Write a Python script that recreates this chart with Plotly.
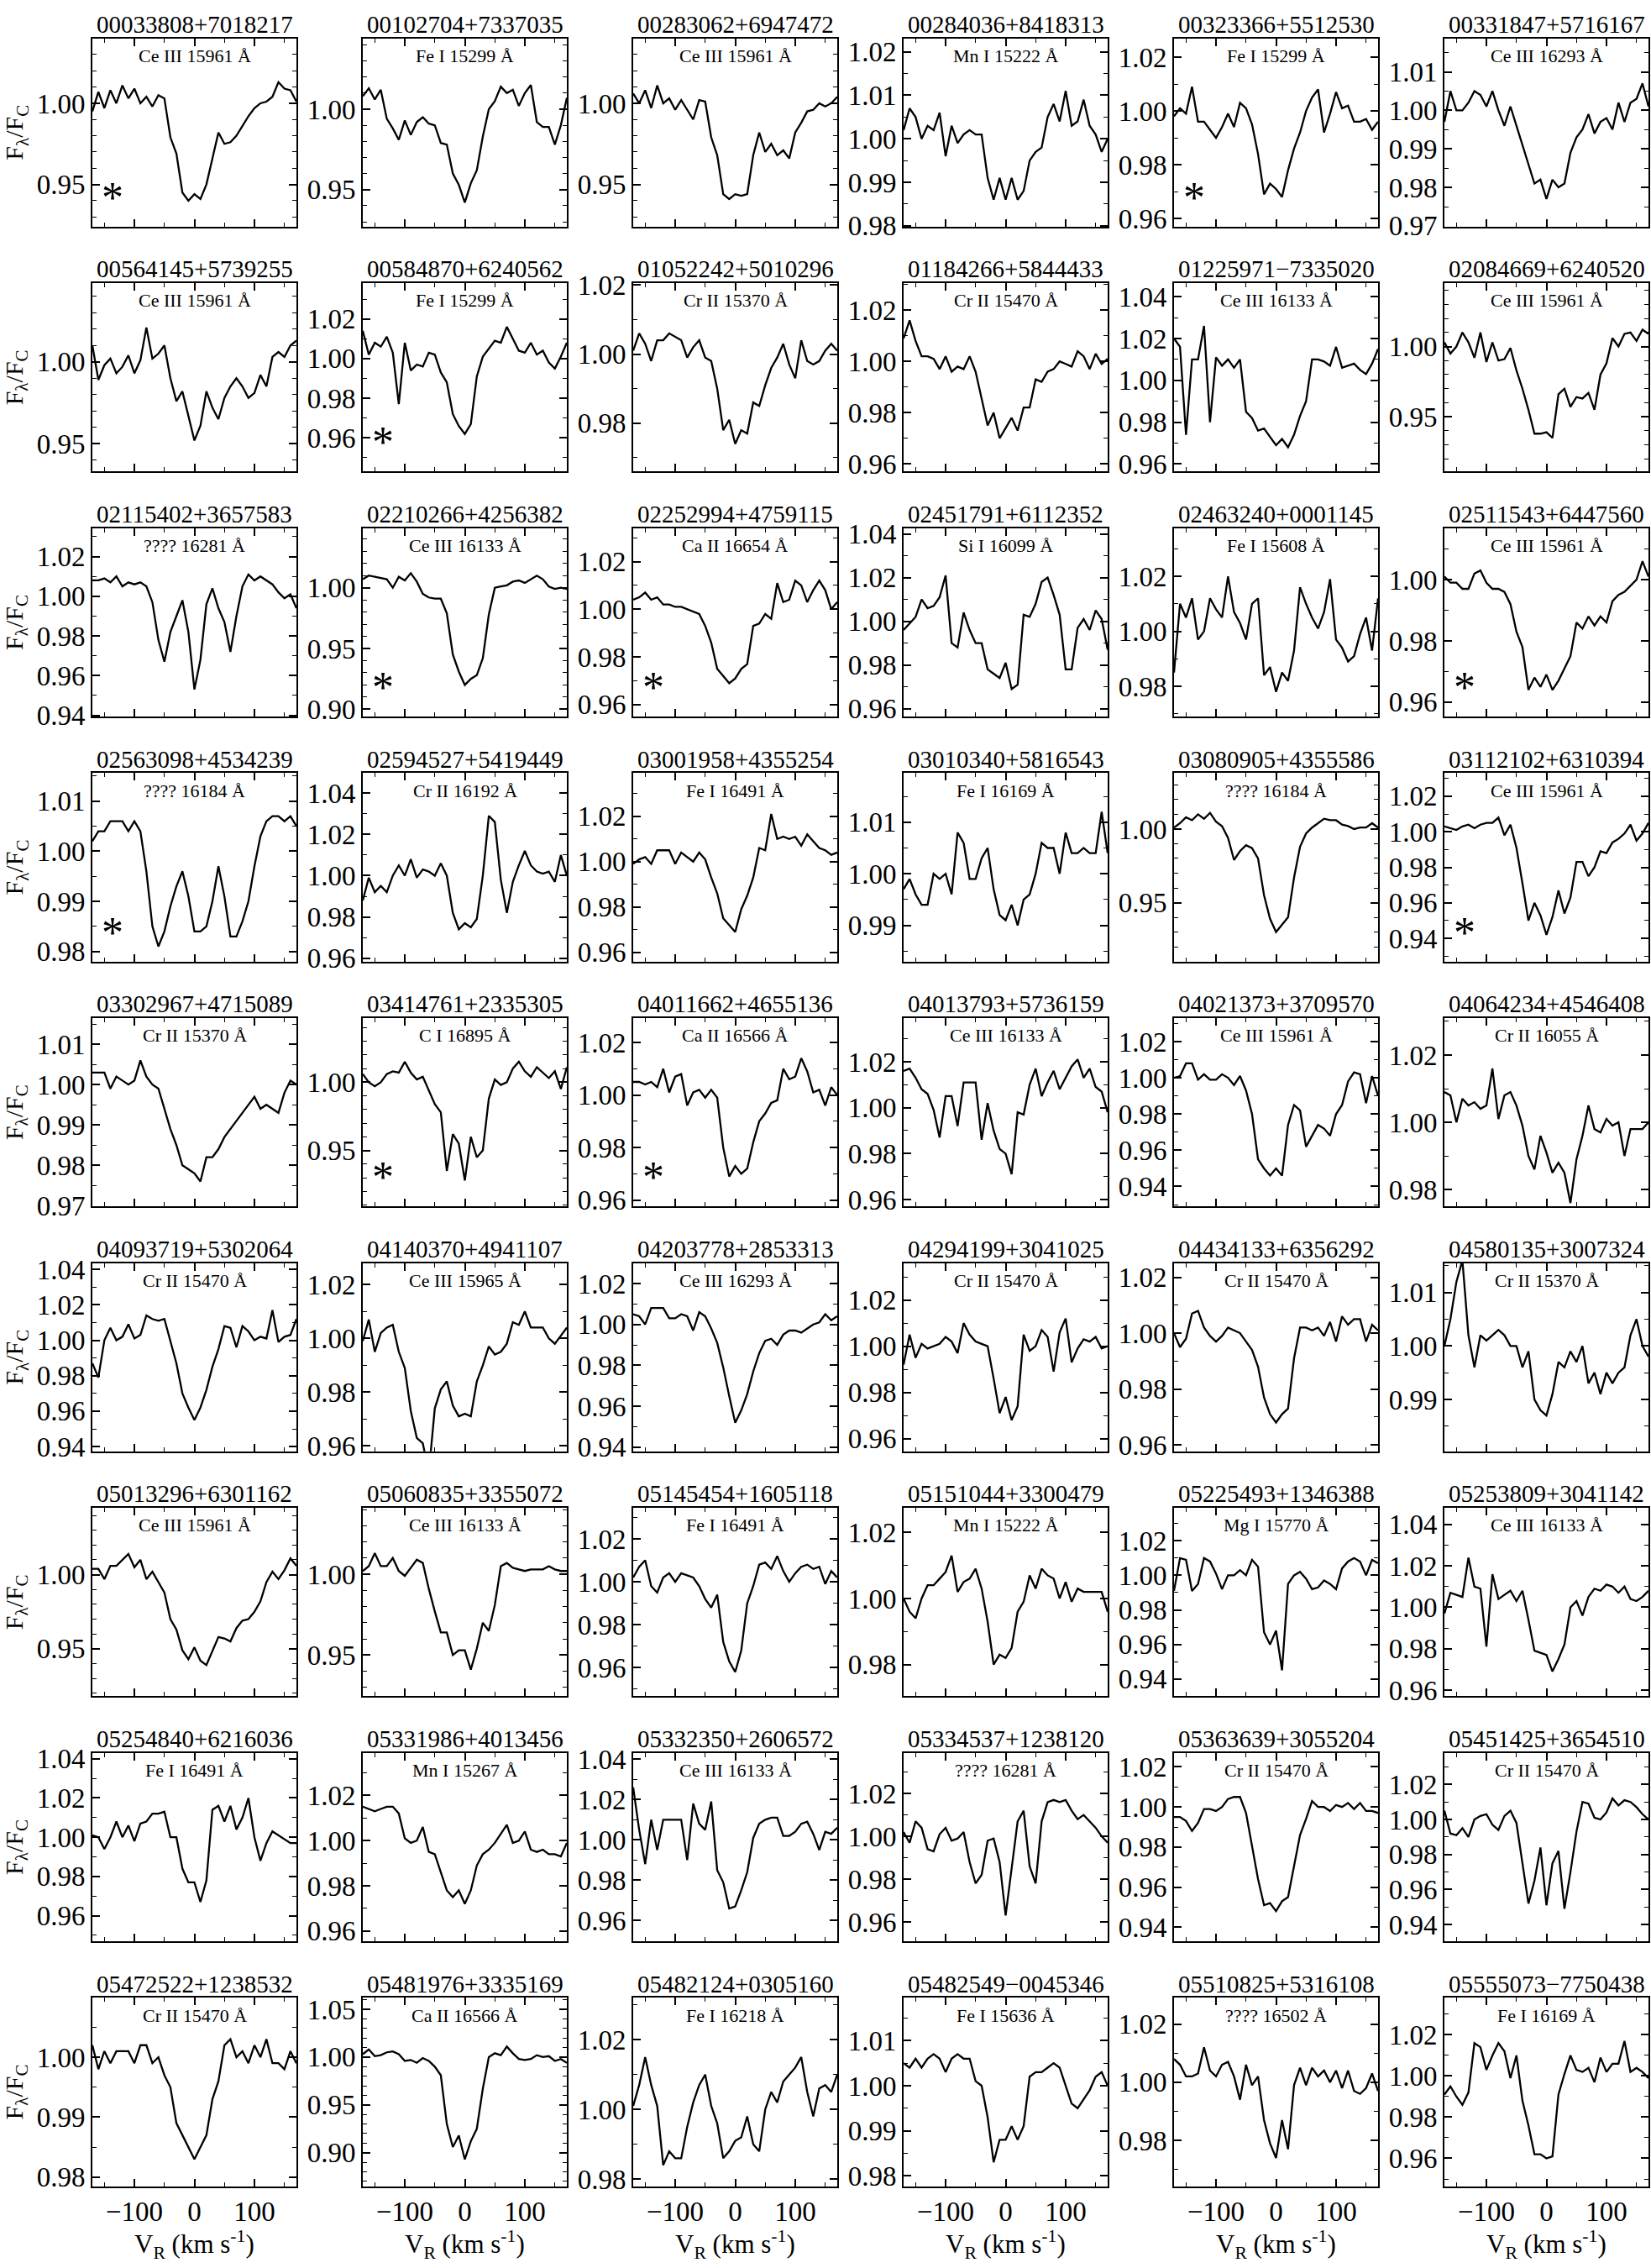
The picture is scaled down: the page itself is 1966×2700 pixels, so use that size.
import plotly.graph_objects as go

# ---------------- data ----------------
V_KMS = [-170, -160, -150, -140, -130, -120, -110, -100, -90, -80, -70, -60, -50, -40, -30, -20, -10,
         0, 10, 20, 30, 40, 50, 60, 70, 80, 90, 100, 110, 120, 130, 140, 150, 160, 170]

STAR_IDS = [
    "00033808+7018217", "00102704+7337035", "00283062+6947472", "00284036+8418313", "00323366+5512530", "00331847+5716167",
    "00564145+5739255", "00584870+6240562", "01052242+5010296", "01184266+5844433", "01225971\u22127335020", "02084669+6240520",
    "02115402+3657583", "02210266+4256382", "02252994+4759115", "02451791+6112352", "02463240+0001145", "02511543+6447560",
    "02563098+4534239", "02594527+5419449", "03001958+4355254", "03010340+5816543", "03080905+4355586", "03112102+6310394",
    "03302967+4715089", "03414761+2335305", "04011662+4655136", "04013793+5736159", "04021373+3709570", "04064234+4546408",
    "04093719+5302064", "04140370+4941107", "04203778+2853313", "04294199+3041025", "04434133+6356292", "04580135+3007324",
    "05013296+6301162", "05060835+3355072", "05145454+1605118", "05151044+3300479", "05225493+1346388", "05253809+3041142",
    "05254840+6216036", "05331986+4013456", "05332350+2606572", "05334537+1238120", "05363639+3055204", "05451425+3654510",
    "05472522+1238532", "05481976+3335169", "05482124+0305160", "05482549\u22120045346", "05510825+5316108", "05555073\u22127750438",
]

LINE_IDS = [
    "Ce III 15961 Å", "Fe I 15299 Å", "Ce III 15961 Å", "Mn I 15222 Å", "Fe I 15299 Å", "Ce III 16293 Å",
    "Ce III 15961 Å", "Fe I 15299 Å", "Cr II 15370 Å", "Cr II 15470 Å", "Ce III 16133 Å", "Ce III 15961 Å",
    "???? 16281 Å", "Ce III 16133 Å", "Ca II 16654 Å", "Si I 16099 Å", "Fe I 15608 Å", "Ce III 15961 Å",
    "???? 16184 Å", "Cr II 16192 Å", "Fe I 16491 Å", "Fe I 16169 Å", "???? 16184 Å", "Ce III 15961 Å",
    "Cr II 15370 Å", "C I 16895 Å", "Ca II 16566 Å", "Ce III 16133 Å", "Ce III 15961 Å", "Cr II 16055 Å",
    "Cr II 15470 Å", "Ce III 15965 Å", "Ce III 16293 Å", "Cr II 15470 Å", "Cr II 15470 Å", "Cr II 15370 Å",
    "Ce III 15961 Å", "Ce III 16133 Å", "Fe I 16491 Å", "Mn I 15222 Å", "Mg I 15770 Å", "Ce III 16133 Å",
    "Fe I 16491 Å", "Mn I 15267 Å", "Ce III 16133 Å", "???? 16281 Å", "Cr II 15470 Å", "Cr II 15470 Å",
    "Cr II 15470 Å", "Ca II 16566 Å", "Fe I 16218 Å", "Fe I 15636 Å", "???? 16502 Å", "Fe I 16169 Å",
]

FLAGGED = [0, 4, 7, 13, 14, 17, 18, 23, 25, 26]   # panels marked with an asterisk

Y_MIN = [0.924, 0.927, 0.924, 0.9798, 0.957, 0.9698,
         0.933, 0.943, 0.966, 0.957, 0.9564, 0.911,
         0.9394, 0.894, 0.955, 0.9564, 0.969, 0.9553,
         0.978, 0.9584, 0.956, 0.983, 0.910, 0.927,
         0.9698, 0.909, 0.9576, 0.957, 0.929, 0.975,
         0.9373, 0.958, 0.938, 0.9545, 0.9577, 0.9803,
         0.918, 0.9245, 0.9467, 0.9704, 0.930, 0.957,
         0.947, 0.9555, 0.9498, 0.951, 0.933, 0.9305,
         0.9785, 0.865, 0.978, 0.9777, 0.9643, 0.9465]
Y_MAX = [1.040, 1.044, 1.040, 1.0231, 1.027, 1.0187,
         1.048, 1.038, 1.0205, 1.0305, 1.0464, 1.045,
         1.0343, 1.049, 1.034, 1.0426, 1.0375, 1.0168,
         1.0156, 1.0497, 1.039, 1.0195, 1.038, 1.033,
         1.0165, 1.047, 1.0293, 1.039, 1.033, 1.031,
         1.0436, 1.028, 1.030, 1.036, 1.0251, 1.0155,
         1.045, 1.041, 1.0344, 1.0274, 1.039, 1.048,
         1.043, 1.0388, 1.0431, 1.039, 1.027, 1.038,
         1.0099, 1.062, 1.032, 1.0195, 1.029, 1.038]
Y_STEP = [0.05, 0.05, 0.05, 0.01, 0.02, 0.01,
          0.05, 0.02, 0.02, 0.02, 0.02, 0.05,
          0.02, 0.05, 0.02, 0.02, 0.02, 0.02,
          0.01, 0.02, 0.02, 0.01, 0.05, 0.02,
          0.01, 0.05, 0.02, 0.02, 0.02, 0.02,
          0.02, 0.02, 0.02, 0.02, 0.02, 0.01,
          0.05, 0.05, 0.02, 0.02, 0.02, 0.02,
          0.02, 0.02, 0.02, 0.02, 0.02, 0.02,
          0.01, 0.05, 0.02, 0.01, 0.02, 0.02]

F01 = [0.995,1.007,0.997,1.008,1.000,1.011,1.003,1.009,1.000,1.004,0.998,1.005,1.003,0.979,0.969,0.945,0.940,0.944,0.941,0.950,0.966,0.982,0.975,0.976,0.980,0.986,0.992,0.997,1.000,1.001,1.004,1.013,1.009,1.008,1.001]
F02 = [1.008,1.013,1.006,1.012,0.994,0.988,0.981,0.993,0.984,0.992,0.995,0.991,0.990,0.979,0.978,0.960,0.953,0.942,0.954,0.962,0.983,1.000,1.005,1.014,1.010,1.012,1.002,1.010,1.015,0.992,0.989,0.989,0.978,0.990,1.007]
F03 = [1.006,1.000,1.008,0.997,1.011,1.000,1.003,0.996,1.002,0.996,0.990,1.002,1.001,0.979,0.968,0.944,0.941,0.944,0.943,0.944,0.968,0.982,0.970,0.975,0.968,0.971,0.966,0.982,0.988,0.995,0.996,1.000,0.998,1.000,1.004]
F04 = [1.002,1.007,1.005,1.000,1.003,1.002,1.006,0.996,1.003,0.999,1.001,1.002,1.001,1.001,0.991,0.986,0.991,0.986,0.991,0.986,0.988,0.995,0.997,0.998,1.005,1.008,1.004,1.011,1.003,1.004,1.009,1.003,1.001,0.997,1.000]
F05 = [0.998,1.001,0.999,1.009,0.996,0.996,0.993,0.990,0.994,0.999,0.994,1.003,1.001,0.995,0.984,0.969,0.973,0.971,0.968,0.978,0.986,0.992,1.000,1.005,1.008,0.992,0.999,1.007,1.001,1.002,0.996,0.996,0.997,0.993,0.996]
F06 = [0.997,1.005,1.000,1.000,1.002,1.005,1.004,1.001,1.005,1.000,0.996,1.001,0.996,0.991,0.986,0.981,0.982,0.977,0.982,0.980,0.981,0.989,0.993,0.995,0.999,0.994,0.997,0.998,0.995,1.002,0.997,1.002,1.003,1.007,1.001]
F07 = [1.010,0.989,0.998,1.002,0.993,0.997,1.004,0.993,1.001,1.021,1.002,1.005,1.010,0.990,0.976,0.982,0.967,0.952,0.961,0.982,0.972,0.965,0.978,0.985,0.990,0.985,0.978,0.981,0.992,0.985,1.003,1.006,1.003,1.010,1.013]
F08 = [1.014,1.002,1.008,1.006,1.011,1.003,0.977,1.008,0.994,0.997,0.996,1.003,1.002,0.993,0.988,0.972,0.966,0.962,0.967,0.991,1.001,1.005,1.009,1.008,1.016,1.010,1.004,1.003,1.008,1.002,1.004,0.998,0.995,1.001,1.008]
F09 = [1.001,1.006,1.003,0.998,1.004,1.004,1.006,1.005,1.004,0.999,1.002,1.004,0.999,0.998,0.990,0.978,0.981,0.974,0.978,0.977,0.986,0.985,0.991,0.996,0.999,1.003,0.997,0.993,1.004,0.998,0.997,0.998,1.001,1.003,1.001]
F10 = [1.009,1.016,1.008,1.002,1.002,1.001,0.997,1.002,0.996,0.998,0.997,1.002,0.996,0.986,0.975,0.980,0.970,0.974,0.978,0.973,0.982,0.982,0.993,0.992,0.996,0.997,1.000,0.999,0.998,1.004,1.002,0.997,1.003,0.999,1.001]
F11 = [1.020,1.016,0.974,1.010,1.010,1.026,0.980,1.011,1.007,1.010,1.006,1.010,0.985,0.982,0.976,0.977,0.973,0.969,0.972,0.968,0.974,0.983,0.990,1.010,1.010,1.009,1.007,1.016,1.006,1.007,1.008,1.005,1.003,1.008,1.015]
F12 = [1.003,0.995,1.000,1.010,1.003,0.992,1.010,0.989,1.003,0.990,0.991,0.999,0.983,0.970,0.955,0.938,0.938,0.939,0.935,0.966,0.970,0.957,0.964,0.963,0.967,0.955,0.980,0.988,1.006,1.000,1.009,1.010,1.004,1.012,1.009]
F13 = [1.008,1.008,1.009,1.007,1.010,1.005,1.007,1.006,1.007,1.005,0.997,0.978,0.967,0.982,0.990,0.998,0.982,0.953,0.968,0.996,1.004,0.994,0.987,0.972,0.990,1.005,1.011,1.008,1.010,1.008,1.006,1.002,0.999,1.001,0.994]
F14 = [1.007,1.010,1.009,1.008,1.007,1.000,1.009,1.006,1.012,1.005,0.995,0.992,0.991,0.991,0.979,0.945,0.931,0.920,0.925,0.928,0.942,0.978,1.000,1.001,1.002,1.005,1.006,1.004,1.007,1.010,1.007,1.001,0.999,1.000,0.999]
F15 = [1.004,1.005,1.007,1.004,1.005,1.002,1.002,1.001,1.001,1.000,0.999,0.998,0.993,0.986,0.975,0.972,0.969,0.971,0.975,0.977,0.993,0.994,0.998,0.996,1.011,1.003,1.004,1.012,1.010,1.003,1.008,1.012,1.008,1.000,1.003]
F16 = [0.996,0.999,1.002,1.010,1.006,1.007,1.011,1.021,0.990,0.988,1.004,0.996,0.990,0.990,0.978,0.976,0.974,0.981,0.969,0.971,1.003,1.002,1.008,1.018,1.020,1.012,1.003,0.978,0.978,0.997,1.001,0.996,1.005,1.001,0.987]
F17 = [0.985,1.010,1.005,1.012,0.997,1.000,1.012,1.008,1.005,1.020,1.007,1.003,0.997,1.010,1.012,0.984,0.987,0.978,0.985,0.982,0.993,1.016,1.010,1.005,1.001,1.007,1.019,0.997,0.994,0.989,0.991,0.999,1.005,0.993,1.012]
F18 = [1.001,0.999,0.999,0.997,0.997,1.002,1.003,0.999,0.997,0.997,0.996,0.992,0.983,0.978,0.964,0.968,0.965,0.969,0.964,0.967,0.971,0.975,0.986,0.984,0.988,0.985,0.988,0.986,0.993,0.995,0.996,0.998,1.000,1.006,1.001]
F19 = [1.002,1.004,1.004,1.006,1.006,1.006,1.004,1.006,1.004,0.996,0.985,0.981,0.984,0.989,0.993,0.996,0.991,0.984,0.984,0.985,0.990,0.997,0.991,0.983,0.983,0.986,0.990,0.997,1.003,1.006,1.007,1.007,1.006,1.007,1.005]
F20 = [0.988,0.999,0.992,0.995,0.992,1.000,1.005,1.000,1.008,0.999,1.003,1.002,1.000,1.006,1.000,0.982,0.974,0.977,0.975,0.979,1.000,1.029,1.026,0.998,0.982,0.997,1.005,1.012,1.005,1.002,1.001,1.002,0.997,1.010,1.000]
F21 = [0.999,1.001,1.002,0.999,1.005,1.005,1.005,0.999,1.004,1.002,1.000,1.004,1.001,0.993,0.986,0.975,0.972,0.969,0.979,0.985,0.993,1.006,1.005,1.021,1.010,1.011,1.010,1.011,1.007,1.012,1.009,1.006,1.005,1.003,1.004]
F22 = [0.997,0.999,0.996,0.994,0.994,1.000,0.999,1.000,0.996,1.008,1.006,0.999,0.999,1.003,1.005,0.997,0.992,0.991,0.994,0.990,0.995,0.996,1.000,1.006,1.005,1.005,1.000,1.008,1.004,1.004,1.005,1.004,1.004,1.012,1.004]
F23 = [1.001,1.004,1.008,1.006,1.010,1.007,1.011,1.005,1.002,0.994,0.979,0.985,0.989,0.987,0.980,0.955,0.939,0.930,0.935,0.940,0.967,0.988,0.997,1.001,1.004,1.007,1.006,1.006,1.003,1.002,1.000,1.001,1.001,1.004,1.001]
F24 = [1.003,1.002,1.001,1.003,1.004,1.002,1.004,1.005,1.005,1.008,0.998,1.004,0.991,0.971,0.950,0.960,0.953,0.942,0.952,0.967,0.954,0.963,0.983,0.983,0.975,0.980,0.989,0.988,0.994,0.996,0.999,1.004,0.995,0.999,1.005]
F25 = [1.003,1.003,1.003,0.999,1.002,1.001,1.000,1.001,1.006,1.002,1.000,0.999,0.994,0.989,0.985,0.980,0.979,0.978,0.976,0.982,0.982,0.984,0.987,0.989,0.991,0.993,0.995,0.997,0.994,0.995,0.994,0.993,0.998,1.001,1.000]
F26 = [1.006,1.000,0.997,1.000,1.006,1.008,1.007,1.015,1.007,1.002,1.004,0.994,0.984,0.978,0.935,0.962,0.955,0.928,0.960,0.945,0.950,0.988,1.002,0.998,1.000,1.010,1.015,1.008,1.004,1.011,1.007,1.003,1.008,0.995,1.011]
F27 = [1.005,1.005,1.004,1.005,1.003,1.010,1.001,1.007,1.008,0.996,1.001,1.002,0.999,1.002,0.999,0.980,0.969,0.973,0.970,0.972,0.982,0.990,0.993,0.997,0.998,1.010,1.006,1.007,1.014,1.009,1.001,1.002,0.996,1.003,1.000]
F28 = [1.016,1.017,1.013,1.008,1.006,0.999,0.987,1.005,1.005,0.992,1.011,1.011,1.011,0.986,1.002,0.990,0.982,0.980,0.971,0.998,0.997,1.010,1.017,1.005,1.011,1.016,1.008,1.013,1.018,1.021,1.013,1.017,1.009,1.007,0.998]
F29 = [1.000,1.001,1.008,1.008,0.999,1.002,0.999,0.999,1.002,1.000,0.996,1.001,0.993,0.980,0.955,0.950,0.946,0.950,0.946,0.974,0.985,0.982,0.962,0.968,0.974,0.972,0.968,0.980,0.985,0.998,1.003,1.002,0.986,1.001,0.990]
F30 = [1.009,1.008,1.000,1.007,1.005,1.006,1.004,1.005,1.016,1.001,1.008,1.009,1.005,0.999,0.990,0.986,0.996,0.991,0.985,0.988,0.985,0.976,0.989,0.996,1.005,0.998,0.997,1.001,0.999,1.000,0.990,0.998,0.998,0.998,1.000]
F31 = [0.987,0.979,1.000,1.007,1.000,1.002,1.009,1.001,1.003,1.014,1.012,1.011,1.012,1.000,0.987,0.970,0.962,0.955,0.962,0.972,0.985,0.995,1.008,1.007,0.996,1.008,1.005,1.000,1.002,1.001,1.017,0.999,1.002,1.003,1.012]
F32 = [0.999,1.007,0.995,1.002,1.004,1.005,0.995,0.989,0.973,0.963,0.961,0.950,0.974,0.981,0.984,0.975,0.971,0.972,0.971,0.984,0.990,0.997,0.994,0.995,0.998,1.006,1.005,1.010,1.004,1.004,1.004,1.000,0.998,1.001,1.004]
F33 = [1.005,1.004,1.000,1.008,1.008,1.008,1.003,1.003,1.005,1.004,0.997,1.006,1.004,0.998,0.991,0.979,0.965,0.952,0.958,0.966,0.977,0.986,0.992,0.993,0.990,0.995,0.997,0.997,0.996,0.998,1.000,1.001,1.005,1.002,1.004]
F34 = [0.992,1.005,0.995,1.001,0.999,1.000,1.001,1.004,1.002,0.997,1.010,1.005,1.002,1.001,1.000,0.986,0.971,0.978,0.968,0.974,1.005,0.998,1.000,1.007,1.004,0.989,1.006,1.012,0.993,0.999,1.003,1.002,1.004,0.999,1.000]
F35 = [1.000,0.995,0.998,1.007,1.008,1.002,0.999,0.997,0.999,1.002,1.001,1.000,0.997,0.994,0.988,0.977,0.971,0.968,0.971,0.973,0.991,1.002,1.002,1.001,1.002,0.999,1.004,0.997,1.006,1.003,1.005,1.005,0.997,1.003,1.001]
F36 = [1.000,1.005,1.012,1.016,1.002,0.996,1.002,1.001,1.002,1.003,1.002,1.000,1.000,0.996,0.999,0.990,0.988,0.987,0.991,0.997,0.996,0.999,0.997,1.000,0.993,0.995,0.991,0.995,0.993,0.995,0.996,1.002,1.005,1.000,0.998]
F37 = [1.004,1.004,0.997,1.006,1.006,1.010,1.014,1.005,1.010,0.997,1.002,0.995,0.988,0.970,0.963,0.949,0.943,0.951,0.942,0.939,0.948,0.958,0.957,0.955,0.964,0.969,0.970,0.975,0.982,0.995,1.002,0.997,1.003,1.011,1.006]
F38 = [1.002,1.005,1.013,1.005,1.005,1.010,1.002,0.999,1.004,1.009,1.007,0.991,0.977,0.964,0.964,0.950,0.953,0.953,0.941,0.954,0.970,0.965,0.981,1.005,1.007,1.004,1.003,1.002,1.003,1.003,1.003,1.005,1.003,1.002,1.002]
F39 = [1.002,1.007,1.010,0.998,0.995,1.002,1.004,1.000,1.004,1.003,1.002,0.998,0.992,0.988,0.994,0.972,0.963,0.958,0.968,0.990,0.998,1.008,1.009,1.006,1.012,1.005,1.000,1.004,1.007,1.008,1.006,1.007,0.999,1.005,1.002]
F40 = [1.000,0.996,0.994,1.000,1.004,1.004,1.006,1.008,1.013,1.002,1.005,1.006,1.009,1.003,0.993,0.980,0.983,0.982,0.985,0.996,0.999,1.007,1.003,1.009,1.007,1.006,1.000,1.005,0.999,1.003,1.002,1.002,1.002,1.002,0.996]
F41 = [0.991,1.010,1.009,0.991,0.995,1.010,1.008,1.001,0.992,1.000,1.000,1.003,1.000,1.009,1.005,0.967,0.960,0.968,0.945,0.995,1.000,1.002,0.998,0.992,0.993,0.997,0.995,0.992,1.004,1.008,1.010,1.008,1.000,1.009,1.007]
F42 = [0.997,1.007,1.006,1.005,1.024,1.010,1.009,0.981,1.016,1.004,1.006,1.008,1.003,1.008,0.994,0.979,0.978,0.977,0.969,0.975,0.982,1.000,1.003,0.996,1.005,1.009,1.008,1.011,1.010,1.007,1.010,1.004,1.003,1.005,1.008]
F43 = [1.001,1.000,0.994,1.000,1.008,1.000,1.006,0.998,1.007,1.008,1.012,1.012,1.013,1.000,1.000,0.984,0.977,0.977,0.967,0.978,1.014,1.016,1.008,1.016,1.004,1.010,1.020,1.000,0.988,0.997,1.003,1.001,0.999,0.997,0.997]
F44 = [1.015,1.014,1.013,1.014,1.015,1.015,1.012,1.001,0.999,1.000,1.006,0.995,0.994,0.986,0.978,0.975,0.978,0.972,0.978,0.989,0.994,0.996,0.999,1.003,1.007,0.999,1.000,1.004,0.996,0.995,0.996,0.994,0.994,0.993,0.999]
F45 = [1.026,1.005,0.988,1.010,0.995,1.010,1.010,1.010,1.010,0.990,1.018,1.008,1.005,1.019,0.985,0.979,0.966,0.967,0.975,0.984,1.001,1.008,1.010,1.011,1.011,1.002,1.002,1.004,1.008,1.009,1.003,0.995,1.004,1.003,1.006]
F46 = [1.002,0.997,1.007,1.004,0.994,0.993,1.001,1.004,0.998,0.999,1.002,0.988,0.978,0.982,0.998,0.999,0.988,0.963,0.985,1.007,1.012,0.986,0.978,1.007,1.016,1.017,1.016,1.017,1.012,1.008,1.010,1.007,1.004,1.000,0.997]
F47 = [0.995,0.995,0.993,0.988,0.992,0.999,0.999,0.998,1.000,1.004,1.005,1.005,0.997,0.981,0.964,0.951,0.952,0.948,0.953,0.955,0.970,0.986,0.994,1.003,1.000,1.000,0.998,1.001,1.000,1.002,0.999,1.002,0.998,0.998,0.997]
F48 = [1.005,0.992,0.991,0.995,0.990,1.000,1.002,1.003,0.997,0.994,1.002,1.005,0.998,0.976,0.952,0.965,0.984,0.951,0.975,0.982,0.949,0.970,0.993,1.010,1.009,1.001,1.000,1.004,1.012,1.008,1.011,1.010,1.007,1.003,1.000]
F49 = [1.002,0.998,1.001,0.999,1.001,1.001,1.001,0.999,1.002,1.002,0.999,1.000,0.997,0.995,0.989,0.987,0.985,0.983,0.985,0.987,0.993,0.996,1.002,1.003,1.000,1.001,0.999,1.002,1.000,1.003,0.999,0.999,0.998,1.001,0.999]
F50 = [1.003,1.008,1.001,1.002,1.005,1.006,1.003,0.996,0.997,0.994,0.999,0.996,0.990,0.981,0.930,0.906,0.918,0.893,0.912,0.925,0.967,1.000,1.004,1.002,1.011,1.004,0.998,0.997,0.998,1.002,1.000,1.001,0.996,0.998,0.994]
F51 = [1.001,1.007,1.015,1.007,1.001,0.984,0.988,0.986,0.986,0.995,1.002,1.007,1.010,1.001,0.996,0.986,0.988,0.991,0.992,0.998,0.990,0.988,1.000,1.005,1.002,1.008,1.010,1.012,1.015,1.005,0.998,1.006,1.007,1.005,1.010]
F52 = [1.005,1.004,1.006,1.004,1.006,1.007,1.006,1.003,1.006,1.007,1.006,1.006,1.001,1.000,0.993,0.983,0.988,0.988,0.991,0.988,0.991,1.002,1.003,1.003,1.004,1.005,1.004,1.000,0.996,0.995,0.997,0.999,1.002,1.003,1.000]
F53 = [1.008,1.006,1.002,1.002,1.003,1.012,1.004,1.002,1.006,1.007,1.002,0.994,1.006,0.999,1.002,0.987,0.979,0.974,0.987,0.977,0.999,1.005,0.999,1.005,1.002,1.004,1.000,1.004,0.998,1.004,0.997,0.996,0.998,1.003,0.997]
F54 = [0.991,0.995,0.990,0.986,0.992,1.016,1.014,1.003,1.010,1.016,1.012,0.999,1.010,0.988,0.976,0.962,0.962,0.960,0.961,0.991,1.001,1.010,1.003,1.002,1.004,0.997,1.009,1.002,1.006,1.006,1.017,1.002,1.004,1.002,0.999]

FLUX = [F01, F02, F03, F04, F05, F06, F07, F08, F09, F10, F11, F12, F13, F14, F15, F16, F17, F18,
        F19, F20, F21, F22, F23, F24, F25, F26, F27, F28, F29, F30, F31, F32, F33, F34, F35, F36,
        F37, F38, F39, F40, F41, F42, F43, F44, F45, F46, F47, F48, F49, F50, F51, F52, F53, F54]

for k, f in enumerate(FLUX):
    if len(f) != len(V_KMS):
        raise ValueError("panel %d has %d values" % (k + 1, len(f)))

# ---------------- layout (pixels) ----------------
W, H = 1966, 2700
COL_X0, COL_STEP, PW = 110, 322, 243
ROW_Y0, ROW_STEP, PH = 31, 295.2, 227
FONT = "Liberation Serif"
NCOL = 6


def px(x):
    return x / W


def py(y):
    return 1 - y / H


fig = go.Figure()
layout = dict(width=W, height=H, autosize=False, margin=dict(l=0, r=0, t=0, b=0),
              paper_bgcolor="white", plot_bgcolor="white", showlegend=False,
              font=dict(family=FONT, color="black"))
ann = []

n_rows = (len(FLUX) + NCOL - 1) // NCOL
for i, flux in enumerate(FLUX):
    r, c = divmod(i, NCOL)
    left = COL_X0 + c * COL_STEP
    top = ROW_Y0 + r * ROW_STEP
    sfx = "" if i == 0 else str(i + 1)
    fig.add_trace(go.Scatter(x=V_KMS, y=flux, mode="lines",
                             line=dict(color="black", width=2.3),
                             xaxis="x" + sfx, yaxis="y" + sfx, hoverinfo="skip"))
    last_row = (r == n_rows - 1)
    layout["xaxis" + sfx] = dict(
        domain=[px(left), px(left + PW)], anchor="y" + sfx, range=[-170, 170],
        tick0=0, dtick=100, ticks="inside", ticklen=9, tickwidth=1.5, tickcolor="black",
        showline=True, linewidth=2, linecolor="black", mirror="allticks",
        showgrid=False, zeroline=False, showticklabels=last_row, ticklabelstandoff=0,
        tickfont=dict(size=33, family=FONT, color="black"),
        minor=dict(tick0=0, dtick=50, ticks="inside", ticklen=5, tickwidth=1.2,
                   tickcolor="black", showgrid=False))
    step = Y_STEP[i]
    minor_step = 0.005 if step <= 0.01 else 0.01
    layout["yaxis" + sfx] = dict(
        domain=[py(top + PH), py(top)], anchor="x" + sfx, range=[Y_MIN[i], Y_MAX[i]],
        tick0=0, dtick=step, tickformat=".2f", ticks="inside", ticklen=9, tickwidth=1.5,
        tickcolor="black", showline=True, linewidth=2, linecolor="black", mirror="allticks",
        showgrid=False, zeroline=False,
        tickfont=dict(size=33, family=FONT, color="black"),
        minor=dict(tick0=0, dtick=minor_step, ticks="inside", ticklen=5, tickwidth=1.2,
                   tickcolor="black", showgrid=False))

    # star name above panel
    ann.append(dict(text=STAR_IDS[i], x=px(left + PW / 2), y=py(top - 17), xref="paper", yref="paper",
                    xanchor="center", yanchor="middle", showarrow=False,
                    font=dict(size=29, family=FONT, color="black")))
    # line identification inside panel
    ann.append(dict(text=LINE_IDS[i], x=px(left + PW / 2), y=py(top + 21), xref="paper", yref="paper",
                    xanchor="center", yanchor="middle", showarrow=False,
                    font=dict(size=22, family=FONT, color="black")))
    if i in FLAGGED:
        ann.append(dict(text="*", x=px(left + 24), y=py(top + 192), xref="paper", yref="paper",
                        xanchor="center", yanchor="middle", showarrow=False,
                        font=dict(size=52, family=FONT, color="black")))
    if c == 0:
        ann.append(dict(text="F<sub>λ</sub>/F<sub>C</sub>", x=px(19), y=py(top + PH / 2),
                        xref="paper", yref="paper", xanchor="center", yanchor="middle",
                        textangle=-90, showarrow=False,
                        font=dict(size=30, family=FONT, color="black")))
    if last_row:
        ann.append(dict(text="V<sub>R</sub> (km s<sup>-1</sup>)", x=px(left + PW / 2), y=py(2690),
                        xref="paper", yref="paper", xanchor="center", yanchor="middle",
                        showarrow=False, font=dict(size=31, family=FONT, color="black")))

layout["annotations"] = ann
fig.update_layout(**layout)
fig.write_html("out.html", config={"displayModeBar": False},
               post_script="document.body.style.margin='0px';document.body.style.overflow='hidden';")
